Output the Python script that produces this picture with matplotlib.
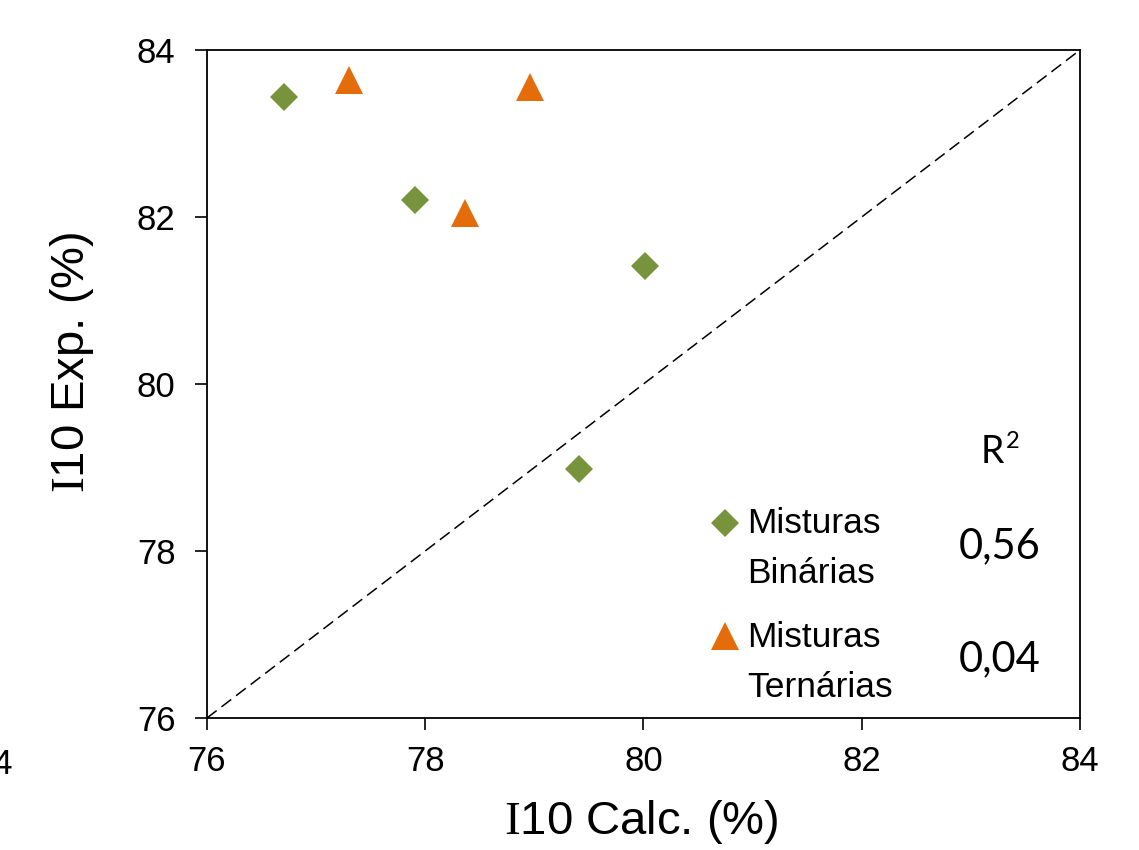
import matplotlib

matplotlib.use('Agg')
import matplotlib.pyplot as plt
import numpy as np
from matplotlib.legend_handler import HandlerLine2D

# data
bin_calc = [76.71, 77.91, 80.01, 79.41]
bin_exp = [83.44, 82.20, 81.41, 78.98]
ter_calc = [77.30, 78.96, 78.36]
ter_exp = [83.64, 83.56, 82.05]
labels = ['Misturas\nBinárias', 'Misturas\nTernárias']
r2_values = ['0,56', '0,04']
ticks = [76, 78, 80, 82, 84]

green = '#77933C'
orange = '#E46C0A'

plt.rcParams['font.family'] = ['Liberation Sans', 'DejaVu Sans']
plt.rcParams['mathtext.fontset'] = 'custom'
plt.rcParams['mathtext.rm'] = 'Liberation Serif'


class FirstLineHandler(HandlerLine2D):
    """Put the legend key beside the first line of a two-line label."""

    def create_artists(self, legend, orig_handle, xdescent, ydescent,
                       width, height, fontsize, trans):
        arts = super().create_artists(legend, orig_handle, xdescent, ydescent,
                                      width, height, fontsize, trans)
        for a in arts:
            a.set_ydata(np.asarray(a.get_ydata()) + 0.75 * fontsize)
        return arts


fig = plt.figure(figsize=(11.39, 8.5), dpi=100)
ax = fig.add_axes([0.1817, 0.1553, 0.9482 - 0.1817, 0.9412 - 0.1553])

ax.plot([76, 84], [76, 84], color='black', linestyle=(0, (8, 4)), linewidth=1.1, zorder=1)
h1, = ax.plot(bin_calc, bin_exp, 'D', color=green, markersize=14.5,
              markeredgewidth=0, linestyle='none', label=labels[0], zorder=3)
h2, = ax.plot(ter_calc, ter_exp, '^', color=orange, markersize=20,
              markeredgewidth=0, linestyle='none', label=labels[1], zorder=3)

ax.set_xlim(76, 84)
ax.set_ylim(76, 84)
ax.set_xticks(ticks)
ax.set_yticks(ticks)
ax.tick_params(axis='both', direction='out', length=8.6, width=1.2,
               labelsize=25, top=False, right=False)
ax.tick_params(axis='x', pad=11)
ax.tick_params(axis='y', pad=14)
for sp in ax.spines.values():
    sp.set_linewidth(1.3)
    sp.set_color('black')

ax.set_xlabel(r'$\mathrm{I}$10 Calc. (%)', fontsize=34)
ax.set_ylabel(r'$\mathrm{I}$10 Exp. (%)', fontsize=34)
ax.xaxis.set_label_coords(0.498, -0.156)
ax.xaxis.label.set_verticalalignment('center')
ax.yaxis.set_label_coords(-0.155, 0.533)
ax.yaxis.label.set_verticalalignment('center')

leg = ax.legend(handles=[h1, h2], loc='upper left', bbox_to_anchor=(0.561, 0.342),
                frameon=False, fontsize=25.5, handlelength=0.6, handletextpad=0.33,
                labelspacing=0.85, borderpad=0,
                handler_map={h1: FirstLineHandler(), h2: FirstLineHandler()})
for t in leg.get_texts():
    t.set_linespacing(1.66)

# R² column
ax.text(0.913, 0.398, 'R', transform=ax.transAxes, fontsize=27,
        family=['Lato', 'DejaVu Sans'], ha='right', va='center')
ax.text(0.915, 0.414, '2', transform=ax.transAxes, fontsize=17,
        family=['Lato', 'DejaVu Sans'], ha='left', va='center')
for val, yy in zip(r2_values, [0.257, 0.0883]):
    ax.text(0.908, yy, val, transform=ax.transAxes, fontsize=30,
            family=['Lato', 'DejaVu Sans'], ha='center', va='center')

# clipped tick label left over at the figure edge
fig.text(-0.023, 0.1, '74', fontsize=25, ha='left', va='center')

fig.savefig('out.png', dpi=100)
